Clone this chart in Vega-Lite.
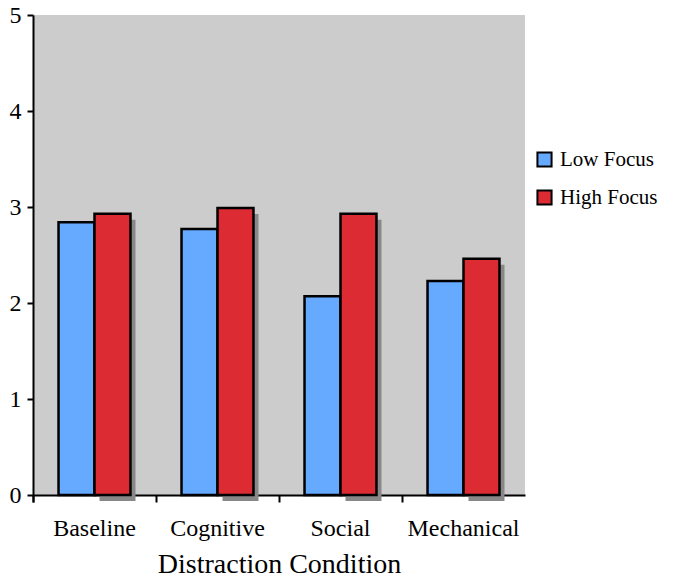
{
  "$schema": "https://vega.github.io/schema/vega-lite/v6.json",
  "autosize": {"type": "none"},
  "padding": {"left": 33, "top": 15, "right": 149, "bottom": 91},
  "width": 492,
  "height": 480,
  "background": "white",
  "config": {
    "view": {"fill": "#cccccc", "stroke": null},
    "font": "Liberation Serif",
    "axisX": {
      "titleFont": "Liberation Serif",
      "titleFontSize": 28,
      "titleFontWeight": "normal",
      "titleColor": "black",
      "titlePadding": 10,
      "labelAngle": 0,
      "labelFont": "Liberation Serif",
      "labelFontSize": 24,
      "labelColor": "black",
      "labelPadding": 14,
      "tickColor": "black",
      "tickWidth": 2,
      "tickSize": 7,
      "domainColor": "black",
      "domainWidth": 2
    },
    "axisY": {
      "grid": false,
      "labelFont": "Liberation Serif",
      "labelFontSize": 24,
      "labelColor": "black",
      "labelPadding": 6,
      "tickColor": "black",
      "tickWidth": 2,
      "tickSize": 6,
      "domainColor": "black",
      "domainWidth": 2
    }
  },
  "data": {
    "values": [
      {"condition": "Baseline", "focus": "Low Focus", "value": 2.84},
      {"condition": "Baseline", "focus": "High Focus", "value": 2.93},
      {"condition": "Cognitive", "focus": "Low Focus", "value": 2.77},
      {"condition": "Cognitive", "focus": "High Focus", "value": 2.99},
      {"condition": "Social", "focus": "Low Focus", "value": 2.07},
      {"condition": "Social", "focus": "High Focus", "value": 2.93},
      {"condition": "Mechanical", "focus": "Low Focus", "value": 2.23},
      {"condition": "Mechanical", "focus": "High Focus", "value": 2.46}
    ]
  },
  "layer": [
    {
      "transform": [{"filter": "datum.focus == 'High Focus'"}],
      "mark": {"type": "bar", "color": "#888888", "width": {"band": 0.5}, "xOffset": 23, "yOffset": 6},
      "encoding": {
        "x": {
          "field": "condition",
          "type": "nominal",
          "sort": ["Baseline", "Cognitive", "Social", "Mechanical"],
          "scale": {"paddingInner": 0.415, "paddingOuter": 0.2075},
          "axis": {"title": "Distraction Condition", "bandPosition": 0, "tickOffset": -25.5, "tickExtra": true, "labelOffset": 25}
        },
        "y": {
          "field": "value",
          "type": "quantitative",
          "scale": {"domain": [0, 5], "nice": false},
          "axis": {"title": null, "values": [0, 1, 2, 3, 4, 5], "format": "d"}
        }
      }
    },
    {
      "mark": {"type": "bar", "stroke": "black", "strokeWidth": 2.5},
      "encoding": {
        "x": {
          "field": "condition",
          "type": "nominal",
          "sort": ["Baseline", "Cognitive", "Social", "Mechanical"],
          "scale": {"paddingInner": 0.415, "paddingOuter": 0.2075},
          "axis": {"title": "Distraction Condition", "bandPosition": 0, "tickOffset": -25.5, "tickExtra": true, "labelOffset": 25}
        },
        "xOffset": {
          "field": "focus",
          "type": "nominal",
          "sort": ["Low Focus", "High Focus"],
          "scale": {"paddingInner": 0, "paddingOuter": 0}
        },
        "y": {
          "field": "value",
          "type": "quantitative",
          "scale": {"domain": [0, 5], "nice": false},
          "axis": {"title": null, "values": [0, 1, 2, 3, 4, 5], "format": "d"}
        },
        "color": {
          "field": "focus",
          "type": "nominal",
          "sort": ["Low Focus", "High Focus"],
          "scale": {"domain": ["Low Focus", "High Focus"], "range": ["#66aaff", "#dd2b33"]},
          "legend": {
            "title": null,
            "orient": "none",
            "legendX": 501,
            "legendY": 134,
            "symbolType": "square",
            "symbolSize": 200,
            "symbolStrokeColor": "black",
            "symbolStrokeWidth": 2,
            "symbolOpacity": 1,
            "labelFont": "Liberation Serif",
            "labelFontSize": 21,
            "labelColor": "black",
            "labelOffset": 5,
            "rowPadding": 15
          }
        }
      }
    }
  ]
}
